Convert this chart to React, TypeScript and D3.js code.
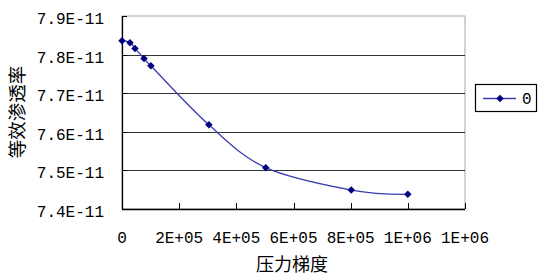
import React, { useEffect, useRef } from 'react';
import * as d3 from 'd3';

// pressure gradient vs equivalent permeability (E-11)
const gradient = [0, 28000, 45500, 77000, 101000, 304000, 503000, 802000, 1000000];
const permeability = [7.836, 7.831, 7.816, 7.79, 7.771, 7.618, 7.507, 7.449, 7.438];

const xTicks = [0, 200000, 400000, 600000, 800000, 1000000, 1200000];
const xTickLabels = ['0', '2E+05', '4E+05', '6E+05', '8E+05', '1E+06', '1E+06'];
const yTicks = [7.4, 7.5, 7.6, 7.7, 7.8, 7.9];
const yTickLabels = ['7.4E-11', '7.5E-11', '7.6E-11', '7.7E-11', '7.8E-11', '7.9E-11'];
const seriesName = '0';
const xTitle = '压力梯度';
const yTitle = '等效渗透率';

export default function App() {
  const ref = useRef<SVGSVGElement>(null);

  useEffect(() => {
    const width = 548;
    const height = 278;
    const left = 122;
    const right = 465;
    const top = 16;
    const bottom = 209;
    const monoFont = '"Liberation Mono", monospace';
    const cjkFont = '"Noto Sans CJK SC", sans-serif';

    const svg = d3.select(ref.current);
    svg.selectAll('*').remove();
    svg.attr('width', width).attr('height', height);

    svg.append('rect').attr('width', width).attr('height', height).attr('fill', '#fff');

    const x = d3.scaleLinear().domain([0, 1200000]).range([left, right]);
    const y = d3.scaleLinear().domain([7.4, 7.9]).range([bottom, top]);

    // plot border (top / right gray)
    svg
      .append('rect')
      .attr('x', left)
      .attr('y', top)
      .attr('width', right - left)
      .attr('height', bottom - top)
      .attr('fill', 'none')
      .attr('stroke', '#a8a8a8')
      .attr('stroke-width', 1);

    // gridlines
    svg
      .selectAll('line.grid')
      .data(yTicks.slice(1, -1))
      .enter()
      .append('line')
      .attr('class', 'grid')
      .attr('x1', left)
      .attr('x2', right)
      .attr('y1', (d) => Math.round(y(d)) + 0.5)
      .attr('y2', (d) => Math.round(y(d)) + 0.5)
      .attr('stroke', '#333')
      .attr('stroke-width', 1.2);

    // axes
    svg
      .append('line')
      .attr('x1', left)
      .attr('x2', right)
      .attr('y1', bottom + 0.5)
      .attr('y2', bottom + 0.5)
      .attr('stroke', '#000')
      .attr('stroke-width', 1.3);
    svg
      .append('line')
      .attr('x1', left + 0.5)
      .attr('x2', left + 0.5)
      .attr('y1', top)
      .attr('y2', bottom)
      .attr('stroke', '#000')
      .attr('stroke-width', 1.3);

    // x ticks (inside)
    svg
      .selectAll('line.xtick')
      .data(xTicks)
      .enter()
      .append('line')
      .attr('class', 'xtick')
      .attr('x1', (d) => Math.round(x(d)) + 0.5)
      .attr('x2', (d) => Math.round(x(d)) + 0.5)
      .attr('y1', bottom - 6)
      .attr('y2', bottom)
      .attr('stroke', '#000');

    svg
      .selectAll('line.ytick')
      .data(yTicks)
      .enter()
      .append('line')
      .attr('class', 'ytick')
      .attr('x1', left)
      .attr('x2', left + 5)
      .attr('y1', (d) => Math.round(y(d)) + 0.5)
      .attr('y2', (d) => Math.round(y(d)) + 0.5)
      .attr('stroke', '#000');

    svg
      .selectAll('text.xlab')
      .data(xTicks)
      .enter()
      .append('text')
      .attr('class', 'xlab')
      .attr('x', (d) => x(d))
      .attr('y', 243)
      .attr('text-anchor', 'middle')
      .attr('font-family', monoFont)
      .attr('font-size', 16)
      .text((d, i) => xTickLabels[i]);

    svg
      .selectAll('text.ylab')
      .data(yTicks)
      .enter()
      .append('text')
      .attr('class', 'ylab')
      .attr('x', 104)
      .attr('y', (d) => y(d) + 8)
      .attr('text-anchor', 'end')
      .attr('font-family', monoFont)
      .attr('font-size', 16)
      .text((d, i) => yTickLabels[i]);

    svg
      .append('text')
      .attr('x', 292)
      .attr('y', 271)
      .attr('text-anchor', 'middle')
      .attr('font-family', cjkFont)
      .attr('font-size', 18)
      .text(xTitle);

    svg
      .append('text')
      .attr('transform', 'translate(24,112) rotate(-90)')
      .attr('text-anchor', 'middle')
      .attr('font-family', cjkFont)
      .attr('font-size', 18.5)
      .text(yTitle);

    const points = gradient.map((g, i) => [g, permeability[i]] as [number, number]);

    const line = d3
      .line<[number, number]>()
      .x((d) => x(d[0]))
      .y((d) => y(d[1]))
      .curve(d3.curveCardinal.tension(0));

    svg
      .append('path')
      .attr('d', line(points))
      .attr('fill', 'none')
      .attr('stroke', '#3c3cb0')
      .attr('stroke-width', 1.3);

    const diamond = d3.symbol().type(d3.symbolSquare).size(28);
    svg
      .selectAll('path.marker')
      .data(points)
      .enter()
      .append('path')
      .attr('class', 'marker')
      .attr('d', diamond)
      .attr('transform', (d) => `translate(${x(d[0])},${y(d[1])}) rotate(45)`)
      .attr('fill', '#000080');

    // legend
    const lg = svg.append('g');
    lg.append('rect')
      .attr('x', 475.5)
      .attr('y', 84.5)
      .attr('width', 61)
      .attr('height', 27)
      .attr('fill', '#fff')
      .attr('stroke', '#000')
      .attr('stroke-width', 1.2);
    lg.append('line')
      .attr('x1', 483)
      .attr('x2', 516)
      .attr('y1', 98.5)
      .attr('y2', 98.5)
      .attr('stroke', '#3c3cb0')
      .attr('stroke-width', 1.3);
    lg.append('path')
      .attr('d', diamond)
      .attr('transform', 'translate(500,98.5) rotate(45)')
      .attr('fill', '#000080');
    lg.append('text')
      .attr('x', 522)
      .attr('y', 104)
      .attr('font-family', monoFont)
      .attr('font-size', 16)
      .text(seriesName);
  }, []);

  return <svg ref={ref} style={{ position: 'absolute', left: 0, top: 0, display: 'block' }} />;
}
